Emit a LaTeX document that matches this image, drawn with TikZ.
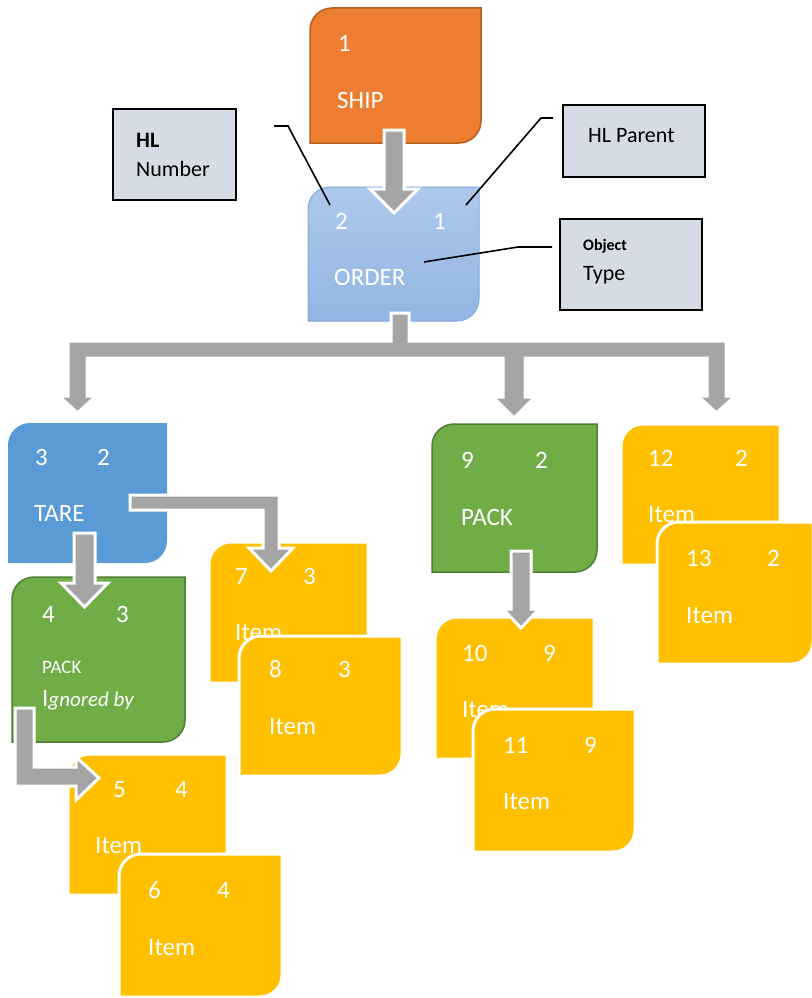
\documentclass[tikz,border=0pt]{standalone}
\usepackage{fontspec}
\setmainfont{Carlito}
\usetikzlibrary{calc}
\definecolor{shiporange}{HTML}{ED7D31}
\definecolor{shipedge}{HTML}{B4601F}
\definecolor{orderTop}{HTML}{ADC8EB}
\definecolor{orderBot}{HTML}{92B6E2}
\definecolor{orderEdge}{HTML}{7FA9DC}
\definecolor{tareblue}{HTML}{5B9BD5}
\definecolor{packgreen}{HTML}{70AD47}
\definecolor{packedge}{HTML}{507E32}
\definecolor{itemyellow}{HTML}{FFC000}
\definecolor{arrowgray}{HTML}{A5A5A5}
\definecolor{calloutfill}{HTML}{D6DCE5}
% diagonal rounded box: name, x1, y1, x2, y2, style
\newcommand{\dshape}[6]{%
  \path[#6] (#2,#5) -- (#2,#3+22) arc[start angle=180,end angle=270,radius=22]
    -- (#4,#3) -- (#4,#5-22) arc[start angle=0,end angle=90,radius=22] -- cycle;
  \coordinate (#1) at ({(#2+#4)/2},{(#3+#5)/2});}
\begin{document}
\begin{tikzpicture}[x=1pt,y=-1pt,
  lbl/.style={text=white, font=\fontsize{25}{30}\selectfont, anchor=base west, inner sep=0pt},
  smalllbl/.style={text=white, font=\fontsize{19}{23}\selectfont, anchor=base west, inner sep=0pt},
  ctext/.style={text=black, font=\fontsize{22}{26}\selectfont, anchor=base west, inner sep=0pt},
  shipbox/.style={fill=shiporange, draw=shipedge, line width=1.5pt},
  orderbox/.style={top color=orderTop, bottom color=orderBot, draw=orderEdge, line width=1pt},
  tarebox/.style={fill=tareblue},
  packbox/.style={fill=packgreen, draw=packedge, line width=1.5pt},
  itembox/.style={fill=itemyellow, draw=white, line width=3pt},
  barrow/.style={fill=arrowgray, draw=white, line width=3pt, line join=miter},
  cbox/.style={fill=calloutfill, draw=black, line width=2pt},
  cline/.style={draw=black, line width=1.6pt}]
\useasboundingbox (0,0) rectangle (811,998);

% SHIP
\dshape{ship}{310}{8}{481}{143}{shipbox}
\node[lbl] (ship1) at (338,52) {1};
\node[lbl] (shipT) at (337,108) {SHIP};

% ORDER
\dshape{order}{308}{187}{479}{321}{orderbox}
\node[lbl] (order2) at (335,229) {2};
\node[lbl] (order1) at (433,229) {1};
\node[lbl] (orderT) at (334,285) {ORDER};

% arrow ship -> order
\coordinate (a1s) at (394,130);
\coordinate (a1t) at (394,213);
\path[barrow] (384,130) -- (404,130) -- (404,189) -- (418,189) -- (a1t) -- (370,189) -- (384,189) -- cycle;

% callouts
\draw[cbox] (113,109) rectangle (236,200) node[pos=0] (hlbox) {};
\node[ctext, font=\bfseries\fontsize{22}{26}\selectfont] (hlH) at (136,147) {HL};
\node[ctext] (hlN) at (136,176) {Number};
\coordinate (hlA) at (274,126);
\coordinate (hlB) at (288,126);
\coordinate (hlC) at (330,205);
\draw[cline] (hlA) -- (hlB) -- (hlC);

\draw[cbox] (563,105) rectangle (705,177) node[pos=0] (hpbox) {};
\node[ctext] (hpT) at (588,142) {HL Parent};
\coordinate (hpA) at (553,118);
\coordinate (hpB) at (541,118);
\coordinate (hpC) at (466,205);
\draw[cline] (hpA) -- (hpB) -- (hpC);

\draw[cbox] (560,219) rectangle (702,310) node[pos=0] (obbox) {};
\node[ctext, font=\bfseries\fontsize{16}{20}\selectfont] (obO) at (583,250) {Object};
\node[ctext] (obT) at (583,280) {Type};
\coordinate (obA) at (552,247);
\coordinate (obB) at (518,247);
\coordinate (obC) at (424,262);
\draw[cline] (obA) -- (obB) -- (obC);

% branch arrow from ORDER
\path[barrow] (391,313) -- (409,313) -- (409,341) -- (726,341) -- (726,396) -- (735,396) -- (716.5,413)
  -- (698,396) -- (707,396) -- (707,358) -- (525,358) -- (525,397) -- (535,397) -- (514,418)
  -- (493,397) -- (503,397) -- (503,358) -- (87,358) -- (87,396) -- (96,396) -- (77.5,413)
  -- (59,396) -- (68,396) -- (68,341) -- (391,341) -- cycle;

% TARE
\dshape{tare}{8}{423}{167}{563}{tarebox}
\node[lbl] (tare3) at (35,465) {3};
\node[lbl] (tare2) at (97,465) {2};
\node[lbl] (tareT) at (34,521) {TARE};

% Item 7
\dshape{item7}{209}{542}{368}{683}{itembox}
\node[lbl] (i7a) at (235,584) {7};
\node[lbl] (i7b) at (303,584) {3};
\node[lbl] (i7c) at (235,640) {Item};

% arrow TARE -> item 7
\path[barrow] (130,495) -- (279,495) -- (279,548) -- (293,548) -- (271,571) -- (249,548) -- (263,548)
  -- (263,510) -- (130,510) -- cycle;

% Item 8
\dshape{item8}{239}{636}{402}{776}{itembox}
\node[lbl] (i8a) at (269,677) {8};
\node[lbl] (i8b) at (338,677) {3};
\node[lbl] (i8c) at (269,734) {Item};

% PACK 4
\dshape{pack4}{12}{577}{185}{742}{packbox}
\node[lbl] (p4a) at (42,622) {4};
\node[lbl] (p4b) at (116,622) {3};
\node[smalllbl] (p4c) at (42,673) {PACK};
\node[lbl] (p4d) at (42,706) {I{\itshape\fontsize{21}{25}\selectfont gnored by}};

% arrow TARE -> PACK 4
\path[barrow] (74,533) -- (95,533) -- (95,583) -- (108,583) -- (84.5,607) -- (61,583) -- (74,583) -- cycle;

% Item 5, 6
\dshape{item5}{68}{754}{227}{895}{itembox}
\node[lbl] (i5a) at (113,797) {5};
\node[lbl] (i5b) at (175,797) {4};
\node[lbl] (i5c) at (95,853) {Item};
\dshape{item6}{119}{854}{282}{997}{itembox}
\node[lbl] (i6a) at (148,898) {6};
\node[lbl] (i6b) at (217,898) {4};
\node[lbl] (i6c) at (148,955) {Item};

% arrow PACK 4 -> item 5
\path[barrow] (15,708) -- (34,708) -- (34,767) -- (76,767) -- (76,757) -- (99,778) -- (76,800)
  -- (76,786) -- (15,786) -- cycle;

% PACK 9
\dshape{pack9}{432}{424}{597}{572}{packbox}
\node[lbl] (p9a) at (461,468) {9};
\node[lbl] (p9b) at (535,468) {2};
\node[lbl] (p9c) at (461,525) {PACK};

% Item 10
\dshape{item10}{435}{617}{594}{759}{itembox}
\node[lbl] (i10a) at (462,661) {10};
\node[lbl] (i10b) at (543,661) {9};
\node[lbl] (i10c) at (462,717) {Item};

% arrow PACK 9 -> item 10
\path[barrow] (511,551) -- (531,551) -- (531,609) -- (539,609) -- (521,628) -- (503,609) -- (511,609) -- cycle;

% Item 11
\dshape{item11}{473}{709}{635}{852}{itembox}
\node[lbl] (i11a) at (503,753) {11};
\node[lbl] (i11b) at (584,753) {9};
\node[lbl] (i11c) at (503,809) {Item};

% Item 12, 13
\dshape{item12}{621}{424}{780}{565}{itembox}
\node[lbl] (i12a) at (648,466) {12};
\node[lbl] (i12b) at (735,466) {2};
\node[lbl] (i12c) at (648,522) {Item};
\dshape{item13}{657}{522}{813}{664}{itembox}
\node[lbl] (i13a) at (686,566) {13};
\node[lbl] (i13b) at (767,566) {2};
\node[lbl] (i13c) at (686,623) {Item};
\end{tikzpicture}
\end{document}
